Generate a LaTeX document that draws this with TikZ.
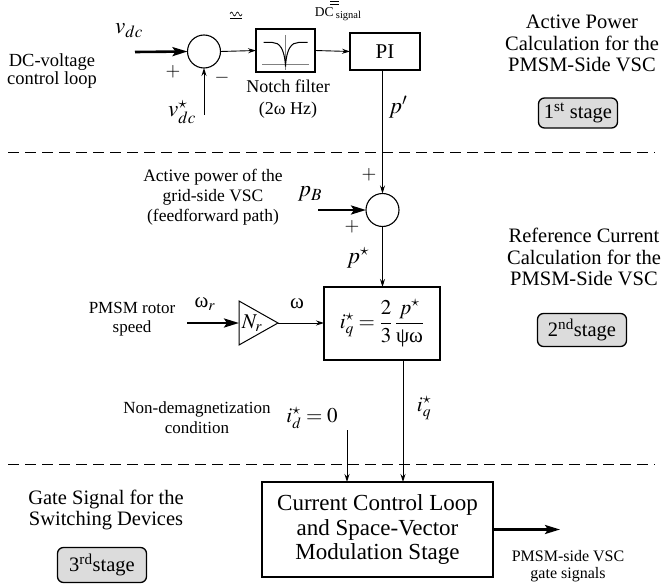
\documentclass[tikz,border=0pt]{standalone}
\usepackage{mathptmx}
\usepackage{fontspec}
\setmainfont{Liberation Serif}
\usetikzlibrary{arrows.meta,calc}
\definecolor{stagefill}{RGB}{220,220,220}
\begin{document}
\begin{tikzpicture}[x=1pt,y=1pt,
  every node/.style={inner sep=0pt,outer sep=0pt},
  sig/.style={line width=0.9pt,-{Stealth[length=8pt,width=5pt]}},
  bigsig/.style={line width=2.6pt,-{Stealth[length=15pt,width=9pt,inset=3pt]}},
  blockbox/.style={draw,line width=1.3pt},
  sumnode/.style={circle,draw,line width=1.1pt,minimum size=33pt},
  stagebox/.style={draw,line width=1.3pt,rounded corners=6pt,fill=stagefill,font=\fontsize{20.5}{20.5}\selectfont},
  lbl/.style={align=center,font=\fontsize{17.5}{20}\selectfont},
  ttl/.style={align=center,font=\fontsize{20.5}{21.5}\selectfont},
  mth/.style={font=\fontsize{23}{23}\selectfont},
  mths/.style={font=\fontsize{21}{21}\selectfont},
  pm/.style={font=\fontsize{19}{19}\selectfont},
  divider/.style={line width=0.9pt,dash pattern=on 11pt off 6pt}
]
\useasboundingbox (0,0) rectangle (662,-586);

% dividers
\coordinate (d1a) at (8,-152); \coordinate (d1b) at (655,-152);
\coordinate (d2a) at (8,-464); \coordinate (d2b) at (655,-464);
\draw[divider] (d1a) -- (d1b);
\draw[divider] (d2a) -- (d2b);

% ---------- stage 1 ----------
\node[lbl,font=\fontsize{18.5}{18.5}\selectfont] (dctxt) at (52,-71) {DC-voltage\\control loop};
\node[sumnode] (sum1) at (204,-51.5) {};
\node[blockbox,minimum width=59pt,minimum height=43pt] (notch) at (285.5,-50.5) {};
\node[blockbox,minimum width=70pt,minimum height=37pt,font=\fontsize{21}{21}\selectfont] (pi) at (385,-51.5) {PI};
\coordinate (vin) at (135,-52);
\coordinate (vref) at (204,-115);
\draw[bigsig] (vin) -- (sum1.west);
\draw[sig] (vref) -- (sum1.south);
\draw[sig] (sum1.east) -- (notch.west);
\draw[sig] (notch.east) -- (pi.west);
\node[mth] (vdc) at (129,-31) {$v_{dc}$};
\node[pm] (plus1) at (173,-72) {$+$};
\node[pm] (minus1) at (222,-78) {$-$};
\node[mth] (vdcs) at (182,-112) {$v_{dc}^{\star}$};
\node[lbl,font=\fontsize{18}{22}\selectfont] (notchtxt) at (288,-99) {Notch filter\\(2ω Hz)};
% notch icon
\begin{scope}[shift={(notch.center)}]
  \draw[gray,line width=0.6pt] (-23.5,-13.5) -- (23.5,-13.5);
  \draw[gray,line width=0.6pt] (0,15.5) -- (0,-19.5);
  \draw[line width=1pt] (-22,8) -- (-13,8) .. controls (-6,8) and (-1,2) .. (0,-16)
        .. controls (1,2) and (6,8) .. (13,8) -- (22,8);
\end{scope}
% ac symbol
\draw[line width=0.6pt] (230,-14) sin (231.5,-12) cos (233,-14) sin (234.5,-16) cos (236,-14) sin (237.5,-12) cos (239,-14) sin (240.5,-16) cos (242,-14);
\draw[line width=0.6pt] (230,-18.5) -- (242,-18.5);
% DC signal
\node (dcsig) at (338,-14) {\fontsize{13.5}{13.5}\selectfont DC\,\raisebox{-2.5pt}{\fontsize{10.5}{10.5}\selectfont signal}};
\draw[line width=0.6pt] (330,-1.5) -- (339,-1.5);
\draw[line width=0.6pt] (330,-4.5) -- (339,-4.5);
\node[mth] (pprime) at (398,-107) {$p'$};
\node[ttl] (title1) at (582,-43.5) {Active Power\\Calculation for the\\PMSM-Side VSC};
\node[stagebox,minimum width=79pt,minimum height=30pt] (st1) at (578,-113) {1\textsuperscript{st} stage};

% ---------- stage 2 ----------
\node[sumnode] (sum2) at (382.5,-210) {};
\draw[sig] (pi.south -| sum2) -- (sum2.north);
\coordinate (pbin) at (318,-210);
\draw[bigsig] (pbin) -- (sum2.west);
\node[pm] (plus2) at (369,-175) {$+$};
\node[pm] (plus3) at (352,-227) {$+$};
\node[mth] (pb) at (310,-194) {$p_B$};
\node[lbl] (pbtxt) at (213,-197) {Active power of the\\grid-side VSC\\(feedforward path)};
\node[blockbox,minimum width=116pt,minimum height=73pt,font=\fontsize{21}{21}\selectfont] (eq) at (382,-323.5)
  {$i_q^{\star}=\displaystyle\frac{2}{3}\,\frac{p^{\star}}{\mbox{ψω}}$};
\draw[sig] (sum2.south) -- (sum2.south |- eq.north);
\node[mth] (pstar) at (358,-258) {$p^{\star}$};
\node[ttl] (title2) at (584,-257) {Reference Current\\Calculation for the\\PMSM-Side VSC};
\node[stagebox,minimum width=89pt,minimum height=33pt] (st2) at (582,-330) {2\textsuperscript{nd}stage};
\node[lbl,font=\fontsize{17}{19}\selectfont] (rotortxt) at (132,-319.5) {PMSM rotor\\speed};
\coordinate (gtop) at (239,-301);
\coordinate (gbot) at (239,-345);
\coordinate (gin) at (239,-323);
\coordinate (gout) at (278,-323);
\draw[line width=1pt,line join=miter] (gtop) -- (gout) -- (gbot) -- cycle;
\node[mths] (nr) at (252,-323) {$N_r$};
\coordinate (wrin) at (187,-323);
\draw[bigsig] (wrin) -- (gin);
\draw[sig] (gout) -- (gout -| eq.west);
\node[mths] (wr) at (205,-304) {$\mbox{ω}_r$};
\node[mths] (w) at (297,-304) {ω};

% ---------- stage 3 ----------
\node[blockbox,minimum width=231pt,minimum height=95pt,align=center,font=\fontsize{23}{24.5}\selectfont] (ccl) at (377.5,-529.5)
  {Current Control Loop\\and Space-Vector\\Modulation Stage};
\coordinate (iqtop) at ([xshift=21pt]eq.south);
\draw[sig] (iqtop) -- (iqtop |- ccl.north);
\coordinate (idtop) at (347,-430);
\draw[sig] (idtop) -- (idtop |- ccl.north);
\node[mths] (iqs) at (424,-408) {$i_q^{\star}$};
\node[mths] (ids) at (312,-418) {$i_d^{\star}=0$};
\node[lbl,font=\fontsize{17}{20}\selectfont] (nondem) at (197,-418) {Non-demagnetization\\condition};
\coordinate (gout2) at (560,-529.5);
\draw[bigsig] (ccl.east) -- (gout2);
\node[lbl,font=\fontsize{16}{17}\selectfont] (gatetxt) at (568,-566.5) {PMSM-side VSC\\gate signals};
\node[ttl] (title3) at (106,-510) {Gate Signal for the\\Switching Devices};
\node[stagebox,minimum width=89pt,minimum height=35pt] (st3) at (102,-565) {3\textsuperscript{rd}stage};
\end{tikzpicture}
\end{document}
